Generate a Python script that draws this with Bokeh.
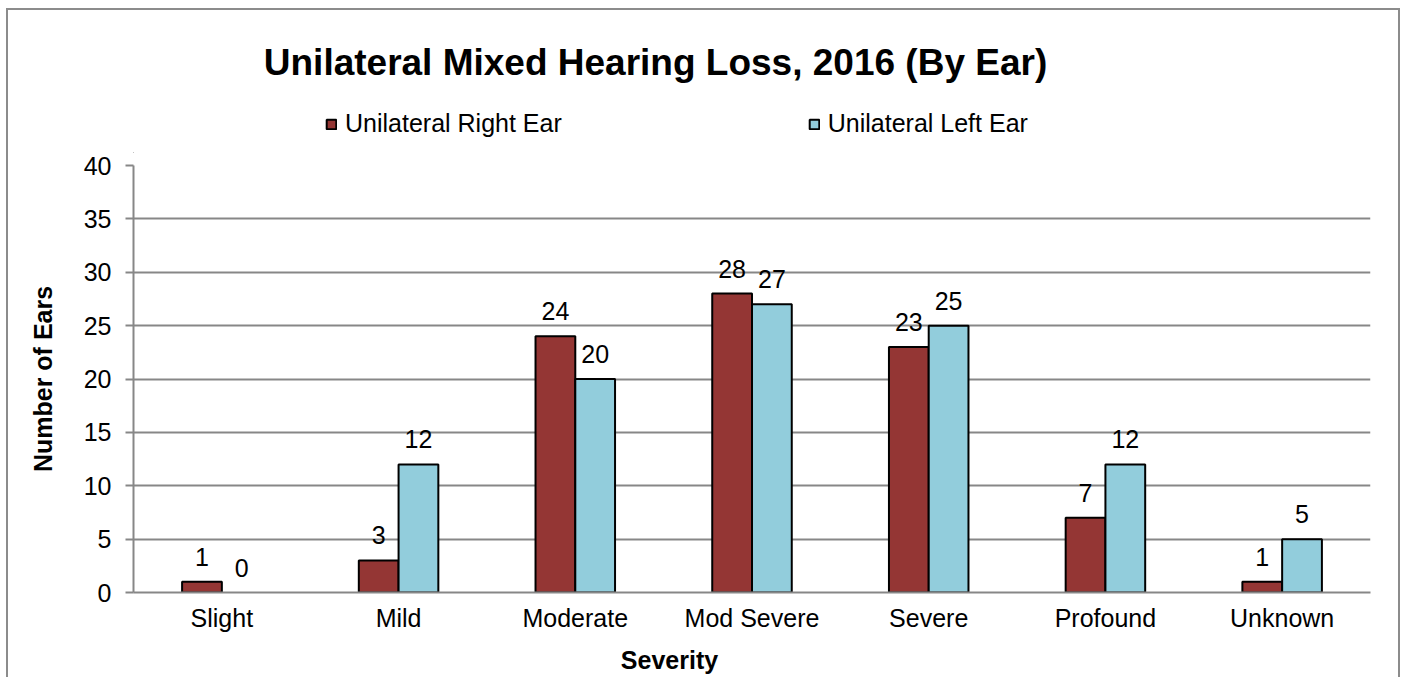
from bokeh.plotting import figure
from bokeh.layouts import column
from bokeh.models import (FactorRange, ColumnDataSource, Legend, LegendItem, Label,
                          Range1d)
from bokeh.transform import dodge
from bokeh.core.properties import value
from bokeh.embed import file_html
from bokeh.resources import INLINE

# ---- data ----
categories = ["Slight", "Mild", "Moderate", "Mod Severe", "Severe", "Profound", "Unknown"]
right_ear = [1, 3, 24, 28, 23, 7, 1]
left_ear = [0, 12, 20, 27, 25, 12, 5]
series_names = ["Unilateral Right Ear", "Unilateral Left Ear"]
y_ticks = [0, 5, 10, 15, 20, 25, 30, 35, 40]
title_text = "Unilateral Mixed Hearing Loss, 2016 (By Ear)"
x_title = "Severity"
y_title = "Number of Ears"

FONT = "Liberation Sans"
RED = "#943634"
BLUE = "#92CDDC"
GRID = "#878787"
W = 1390
BL, BR = 125, 28   # side borders shared by all stacked figures


def blank(height):
    # pixel-coordinate panel, frame aligned with the chart frame
    f = figure(width=W, height=height, x_range=Range1d(BL, W - BR),
               y_range=Range1d(0, height),
               output_backend="svg", toolbar_location=None, title=None,
               x_axis_type=None, y_axis_type=None,
               min_border_left=BL, min_border_right=BR,
               min_border_top=0, min_border_bottom=0)
    f.outline_line_color = None
    f.background_fill_color = "white"
    f.border_fill_color = "white"
    f.xgrid.grid_line_color = None
    f.ygrid.grid_line_color = None
    return f


# ---- header: title + legend ----
head = blank(143)
head.add_layout(Label(x=647, y=91, text=title_text, text_align="center",
                      text_baseline="middle", text_font=FONT, text_font_size="37px",
                      text_font_style="bold", text_color="black"))
# legend proxies (zero-size, outside the visible frame)
h1 = head.vbar(x=[0], top=[0], width=0, fill_color=RED, line_color="black", line_width=2)
h2 = head.vbar(x=[0], top=[0], width=0, fill_color=BLUE, line_color="black", line_width=2)
legend = Legend(items=[LegendItem(label=series_names[0], renderers=[h1]),
                       LegendItem(label=series_names[1], renderers=[h2])],
                orientation="horizontal", location=(192, 15),
                glyph_width=12, glyph_height=12, label_standoff=8, spacing=246,
                padding=0, margin=0, border_line_color=None, background_fill_alpha=0,
                label_text_font=FONT, label_text_font_size="25px", label_text_color="black")
head.add_layout(legend)

# ---- main chart ----
src = ColumnDataSource(dict(
    cat=categories,
    right=right_ear,
    left=left_ear,
    right_s=[str(v) for v in right_ear],
    left_s=[str(v) for v in left_ear],
    # zero-height bars are not outlined
    right_la=[1.0 if v > 0 else 0.0 for v in right_ear],
    left_la=[1.0 if v > 0 else 0.0 for v in left_ear],
))

p = figure(width=W, height=484,
           x_range=FactorRange(*categories, range_padding=0),
           y_range=Range1d(0, 40),
           output_backend="svg", toolbar_location=None, title=None,
           min_border_left=BL, min_border_right=BR,
           min_border_top=12, min_border_bottom=45)
p.outline_line_color = None
p.background_fill_color = "white"
p.border_fill_color = "white"

r1 = p.vbar(x=dodge("cat", -0.1125, range=p.x_range), top="right", width=0.225,
            source=src, fill_color=RED, line_color="black", line_width=2,
            line_alpha="right_la")
r2 = p.vbar(x=dodge("cat", 0.1125, range=p.x_range), top="left", width=0.225,
            source=src, fill_color=BLUE, line_color="black", line_width=2,
            line_alpha="left_la")

for off, col in [(-0.1125, "right"), (0.1125, "left")]:
    p.text(x=dodge("cat", off, range=p.x_range), y=col, text=col + "_s", source=src,
           text_align="center", text_baseline="middle", y_offset=-25,
           text_font=value(FONT), text_font_size=value("25px"), text_color="black")

p.yaxis.ticker = y_ticks
p.yaxis.axis_line_color = GRID
p.yaxis.axis_line_width = 2
p.yaxis.major_tick_line_color = GRID
p.yaxis.major_tick_line_width = 2
p.yaxis.major_tick_out = 8
p.yaxis.major_tick_in = 0
p.yaxis.minor_tick_line_color = None
p.yaxis.major_label_text_font = FONT
p.yaxis.major_label_text_font_size = "25px"
p.yaxis.major_label_text_color = "black"
p.yaxis.major_label_standoff = 14
p.yaxis.axis_label = y_title
p.yaxis.axis_label_text_font = FONT
p.yaxis.axis_label_text_font_style = "bold"
p.yaxis.axis_label_text_font_size = "25px"
p.yaxis.axis_label_text_color = "black"
p.yaxis.axis_label_standoff = 24

p.xaxis.axis_line_color = GRID
p.xaxis.axis_line_width = 2
p.xaxis.major_tick_line_color = None
p.xaxis.minor_tick_line_color = None
p.xaxis.major_label_text_font = FONT
p.xaxis.major_label_text_font_size = "25px"
p.xaxis.major_label_text_color = "black"
p.xaxis.major_label_standoff = 5

p.xgrid.grid_line_color = None
p.ygrid.grid_line_color = GRID
p.ygrid.grid_line_width = 2

# ---- footer: x-axis title ----
foot = blank(42)
foot.add_layout(Label(x=661, y=20, text=x_title, text_align="center",
                      text_baseline="middle", text_font=FONT, text_font_size="25px",
                      text_font_style="bold", text_color="black"))

layout = column(head, p, foot, spacing=0)
layout.styles = {"box-shadow": "-2px -2px 0 0 #8c8c8c, 2px -2px 0 0 #8c8c8c",
                 "margin-left": "8px", "margin-top": "10px"}

open("out.html", "w").write(file_html(layout, INLINE))
